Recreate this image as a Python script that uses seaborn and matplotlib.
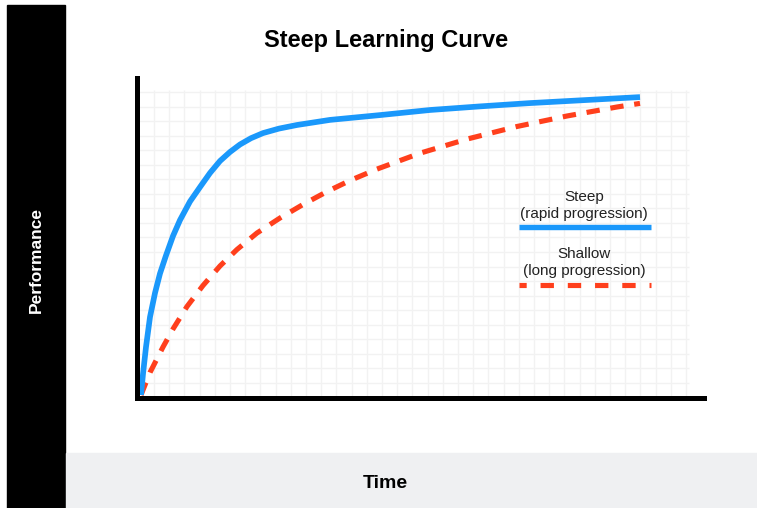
import numpy as np
import pandas as pd
import matplotlib
matplotlib.use("Agg")
import matplotlib.pyplot as plt
from matplotlib.patches import Rectangle
import seaborn as sns

# valeurs (temps 0-100, performance 0-100)
time_steep = [0, 0.4, 1.0, 1.8, 2.8, 3.8, 5.0, 6.4, 7.8, 9.8, 11.8, 13.8, 15.8, 17.8, 19.8,
              22.0, 24.4, 27.6, 31.2, 37.8, 47.8, 57.8, 67.8, 77.8, 88.8, 99.8]
perf_steep = [0, 7.0, 16.0, 26.0, 34.0, 40.5, 46.5, 53.0, 58.3, 64.5, 69.3, 74.0, 78.0, 81.0, 83.5,
              85.6, 87.3, 88.8, 90.0, 91.7, 93.3, 95.0, 96.2, 97.3, 98.3, 99.3]

time_shallow = [0, 1.8, 4.4, 6.4, 9.2, 12.4, 15.8, 19.2, 23.2, 27.8, 32.4, 37.2, 41.8, 47.2,
                55.8, 65.2, 75.2, 85.2, 95.2, 99.8]
perf_shallow = [0, 7.5, 16.0, 22.0, 29.5, 36.5, 43.0, 48.5, 54.0, 59.0, 63.5, 67.8, 71.5, 75.3,
                80.6, 85.3, 89.5, 93.0, 96.0, 97.2]

labels = ["Steep", "(rapid progression)", "Shallow", "(long progression)"]
title = "Steep Learning Curve"
xlabel = "Time"
ylabel = "Performance"

blue = "#1a98fb"
red = "#ff3f1c"

sns.set_theme(style="white")
plt.rcParams["font.family"] = ["Liberation Sans", "DejaVu Sans"]

fig = plt.figure(figsize=(7.57, 5.08), dpi=100)
W, H = 757, 508

# bandes de fond (noire a gauche, grise en bas)
fig.patches.append(Rectangle((7 / W, 0), 58 / W, 1 - 5 / H, transform=fig.transFigure,
                             color="black", zorder=0))
fig.patches.append(Rectangle((66 / W, 0), 1 - 66 / W, 55 / H, transform=fig.transFigure,
                             color="#eff0f2", zorder=0))

ax = fig.add_axes([136.5 / W, 1 - 398 / H, 567 / W, 320.5 / H])
ax.set_facecolor("none")
ax.set_xlim(-0.9, 112.5)
ax.set_ylim(-1, 105.83)

# grille legere
gx = 2.6 + 3.04 * np.arange(36)
gy = 4.0 + 4.85 * np.arange(21)
ax.vlines(gx, -1, 101.7, color="#f2f2f2", lw=1, zorder=0)
ax.hlines(gy, -0.9, 109.6, color="#f2f2f2", lw=1, zorder=0)

df_steep = pd.DataFrame({"t": time_steep, "p": perf_steep})
df_shallow = pd.DataFrame({"t": time_shallow, "p": perf_shallow})

sns.lineplot(data=df_shallow, x="t", y="p", ax=ax, color=red, lw=3.7, sort=False,
             estimator=None)
ax.lines[-1].set_dashes((2.6, 2.1))
ax.lines[-1].set_dash_capstyle("butt")
sns.lineplot(data=df_steep, x="t", y="p", ax=ax, color=blue, lw=4.1, sort=False,
             estimator=None, solid_capstyle="butt", solid_joinstyle="round")

for side in ["top", "right"]:
    ax.spines[side].set_visible(False)
for side in ["left", "bottom"]:
    ax.spines[side].set_color("black")
    ax.spines[side].set_linewidth(3.6)
ax.set_xticks([])
ax.set_yticks([])
ax.set_xlabel("")
ax.set_ylabel("")

# legende faite a la main
ax.text(0.789, 0.627, labels[0], transform=ax.transAxes, ha="center", va="center",
        fontsize=11, color="#222222")
ax.text(0.789, 0.574, labels[1], transform=ax.transAxes, ha="center", va="center",
        fontsize=11, color="#222222")
ax.plot([0.674, 0.907], [0.534, 0.534], transform=ax.transAxes, color=blue, lw=3.9,
        solid_capstyle="butt")
ax.text(0.789, 0.449, labels[2], transform=ax.transAxes, ha="center", va="center",
        fontsize=11, color="#222222")
ax.text(0.789, 0.396, labels[3], transform=ax.transAxes, ha="center", va="center",
        fontsize=11, color="#222222")
ax.plot([0.674, 0.907], [0.353, 0.353], transform=ax.transAxes, color=red, lw=3.7,
        linestyle=(1.2, (2.6, 2.7)), dash_capstyle="butt")

fig.text(386 / W, 1 - 40 / H, title, ha="center", va="center", fontsize=17,
         fontweight="bold", color="black")
fig.text(385 / W, 1 - 483 / H, xlabel, ha="center", va="center", fontsize=14,
         fontweight="bold", color="black")
fig.text(36 / W, 1 - 260 / H, ylabel, ha="center", va="center", fontsize=12.5,
         fontweight="bold", color="white", rotation=90)

fig.savefig("out.png", dpi=100)
